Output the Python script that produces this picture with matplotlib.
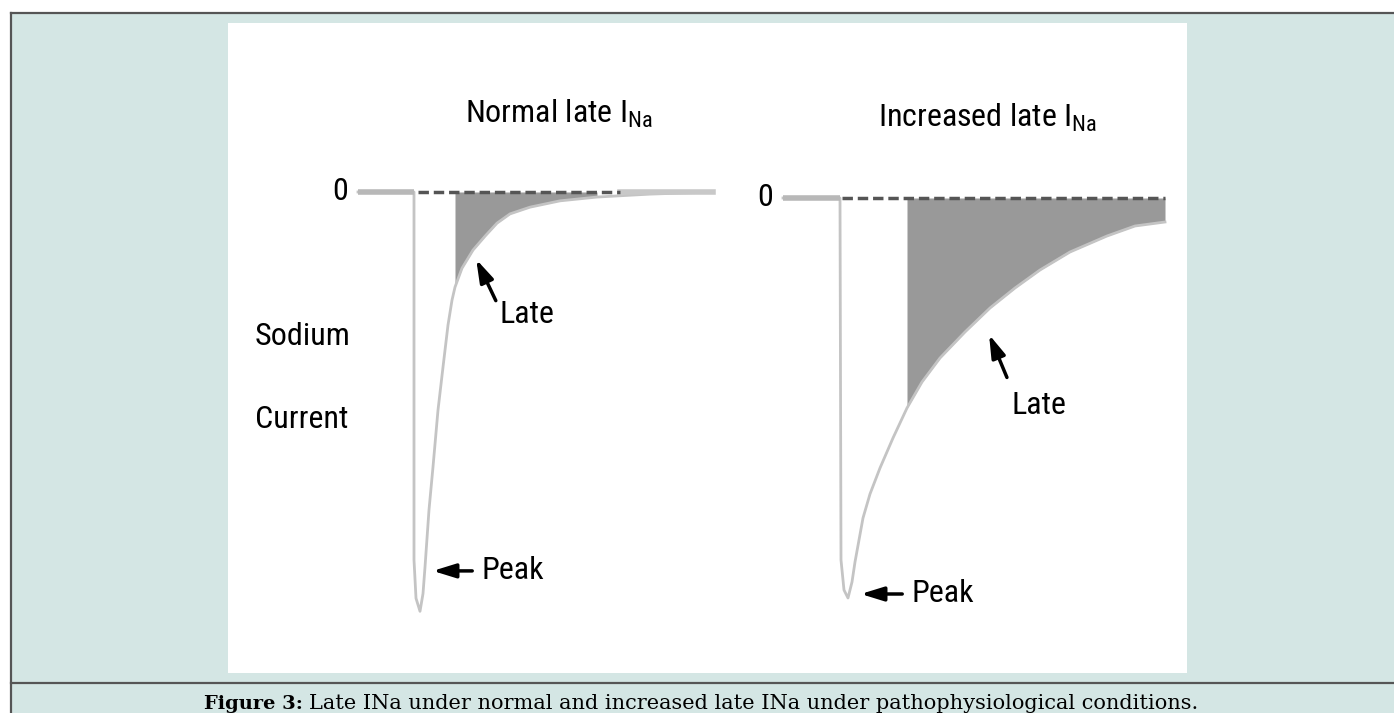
"""
Late INa : courant sodique normal vs augmente (figure 3)
"""
import numpy as np
import matplotlib.pyplot as plt
from matplotlib.patches import Rectangle
from matplotlib.lines import Line2D

W, H = 1394, 713
FONT = ['Roboto Condensed', 'Liberation Sans Narrow', 'DejaVu Sans Condensed',
        'Roboto', 'DejaVu Sans']
plt.rcParams['font.family'] = FONT
plt.rcParams['mathtext.fontset'] = 'custom'
plt.rcParams['mathtext.rm'] = 'Roboto Condensed'

TEAL = '#D4E6E4'
TRACE = '#c4c4c4'
FILL = '#999999'

# courbes (temps arbitraire, courant normalise au pic)
t_normal = [-5.5, 0.1, 0.1, 0.3, 0.7, 1.0, 1.2, 1.6, 2.0, 2.5, 3.0, 3.5, 3.9, 4.2,
            4.9, 6.0, 7.2, 8.4, 9.7, 11.7, 14.7, 18.4, 23.7, 30.0]
i_normal = [0.0, 0.0, -0.874, -0.965, -0.996, -0.954, -0.891, -0.755, -0.653, -0.518,
            -0.416, -0.316, -0.257, -0.226, -0.181, -0.138, -0.105, -0.074, -0.052,
            -0.036, -0.021, -0.012, -0.005, 0.0]

t_increased = [-5.7, 0.0, 0.1, 0.4, 0.8, 1.2, 1.5, 2.3, 3.0, 4.0, 5.3, 6.7, 8.2,
               10.0, 12.5, 15.0, 17.5, 20.0, 23.0, 26.7, 29.5, 32.5]
i_increased = [0.0, 0.0, -0.905, -0.98, -1.0, -0.96, -0.91, -0.80, -0.74, -0.675,
               -0.60, -0.525, -0.46, -0.40, -0.335, -0.275, -0.225, -0.18, -0.135,
               -0.095, -0.07, -0.06]

late_normal = (4.2, 20.0)
late_increased = (6.7, 32.5)
dash_normal = (0.5, 20.7)
dash_increased = (0.2, 32.5)

fig = plt.figure(figsize=(W / 100, H / 100), dpi=100)
fig.patch.set_facecolor('white')

# fond de la page
fig.patches.append(Rectangle((11 / W, 0), 1, 1 - 13 / H, transform=fig.transFigure,
                             facecolor=TEAL, edgecolor='none', zorder=-2))
fig.patches.append(Rectangle((228 / W, 1 - 673 / H), (1187 - 228) / W, (673 - 23) / H,
                             transform=fig.transFigure, facecolor='white',
                             edgecolor='none', zorder=-1))
for xs, ys in [([11 / W, 1], [1 - 13 / H] * 2), ([11 / W] * 2, [0, 1 - 13 / H]),
               ([11 / W, 1], [1 - 683 / H] * 2)]:
    fig.add_artist(Line2D(xs, ys, color='#555555', lw=1.6, zorder=-1))


def panel(x0, x1, y_top, y_bot):
    ax = fig.add_axes([x0 / W, 1 - y_bot / H, (x1 - x0) / W, (y_bot - y_top) / H])
    ax.set_axis_off()
    ax.patch.set_alpha(0)
    ax.set_zorder(2)
    return ax


def trace(ax, t, i, late, dash):
    t = np.array(t); i = np.array(i)
    m = (t >= late[0]) & (t <= late[1])
    ax.fill_between(t[m], i[m], 0, color=FILL, lw=0, zorder=2)
    ax.plot(t, i, color=TRACE, lw=2, zorder=3, solid_joinstyle='round')
    ax.plot([t[0], t[1]], [0, 0], color='#b8b8b8', lw=4, zorder=3, solid_capstyle='butt')
    ax.plot(dash, [0, 0], color='#555555', lw=2.5, dashes=(3, 1.4), zorder=4)


FS = 23
ARROW = dict(arrowstyle='-|>,head_length=0.55,head_width=0.17', color='black',
             lw=2.5, mutation_scale=25)

# panneau gauche : late INa normal
ax1 = panel(333, 733, 86.75, 655.1)
ax1.set_xlim(-8, 32); ax1.set_ylim(-1.1, 0.25)
trace(ax1, t_normal, i_normal, late_normal, dash_normal)
ax1.plot([dash_normal[1], t_normal[-1]], [0, 0], color='#c8c8c8', lw=4, zorder=3)
ax1.text(-7.3, 0, '0', fontsize=FS, ha='center', va='center')
ax1.text(5.2, 0.164, r'Normal late I$_\mathrm{Na}$', fontsize=FS, ha='left', va='baseline')
ax1.annotate('', xy=(6.2, -0.154), xytext=(8.4, -0.264), arrowprops=ARROW)
ax1.text(8.7, -0.29, 'Late', fontsize=FS, ha='left', va='center')
ax1.annotate('', xy=(1.7, -0.90), xytext=(6.2, -0.90), arrowprops=ARROW)
ax1.text(6.9, -0.898, 'Peak', fontsize=FS, ha='left', va='center')

# panneau droit : late INa augmente
ax2 = panel(760, 1187, 98, 638)
ax2.set_xlim(-8, 34.7); ax2.set_ylim(-1.1, 0.25)
trace(ax2, t_increased, i_increased, late_increased, dash_increased)
ax2.text(-7.5, 0, '0', fontsize=FS, ha='center', va='center')
ax2.text(3.8, 0.1775, r'Increased late I$_\mathrm{Na}$', fontsize=FS, ha='left', va='baseline')
ax2.annotate('', xy=(14.8, -0.335), xytext=(16.8, -0.455), arrowprops=ARROW)
ax2.text(17.2, -0.52, 'Late', fontsize=FS, ha='left', va='center')
ax2.annotate('', xy=(1.8, -0.99), xytext=(6.5, -0.99), arrowprops=ARROW)
ax2.text(7.2, -0.9875, 'Peak', fontsize=FS, ha='left', va='center')

# etiquette de l'axe
fig.text(255 / W, 1 - 345 / H, 'Sodium', fontsize=FS, ha='left', va='baseline')
fig.text(255 / W, 1 - 428 / H, 'Current', fontsize=FS, ha='left', va='baseline')

# legende de la figure
fig.text(303 / W, 1 - 709 / H, 'Figure 3:', family='DejaVu Serif', fontweight='bold',
         fontsize=14, ha='right', va='baseline')
fig.text(309 / W, 1 - 709 / H,
         'Late INa under normal and increased late INa under pathophysiological conditions.',
         family='DejaVu Serif', fontsize=15, ha='left', va='baseline')

plt.savefig('out.png', dpi=100, facecolor='white')
plt.close()
